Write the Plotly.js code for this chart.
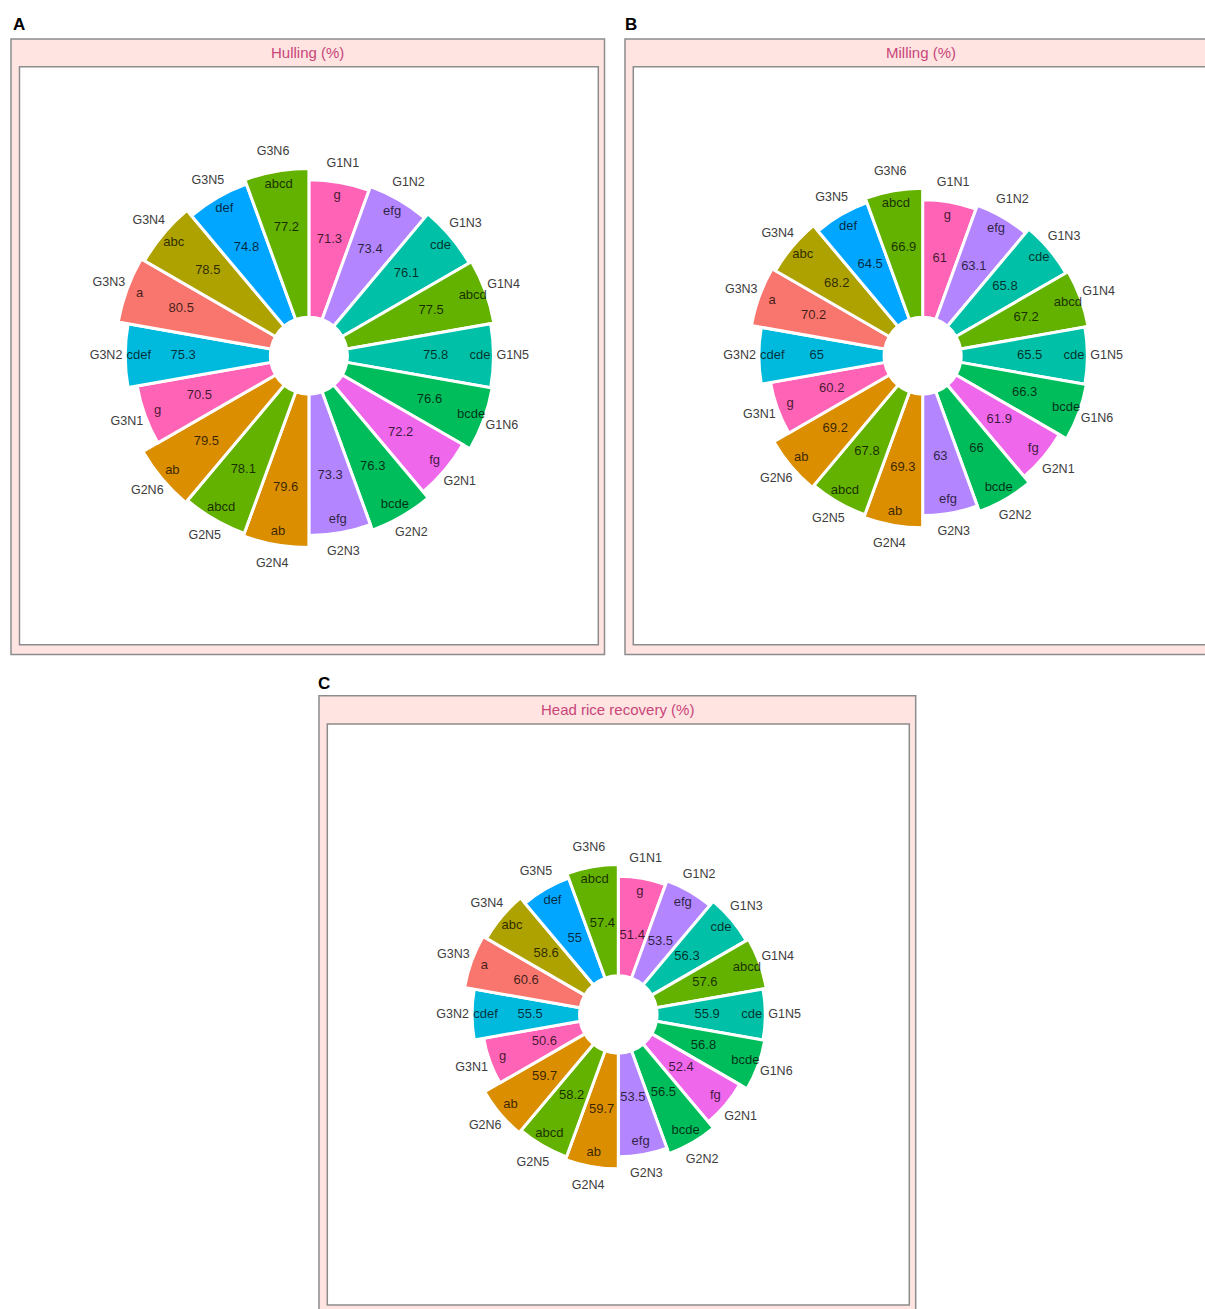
<!DOCTYPE html>
<html>
<head>
<meta charset="utf-8">
<script src="https://cdn.plot.ly/plotly-3.0.1.min.js"></script>
<style>
  html, body { margin: 0; padding: 0; background: #ffffff; }
  #chart { width: 1205px; height: 1309px; }
</style>
</head>
<body>
<div id="chart"></div>
<script>
// ---------------- data ----------------
const categories = ['G1N1','G1N2','G1N3','G1N4','G1N5','G1N6',
                    'G2N1','G2N2','G2N3','G2N4','G2N5','G2N6',
                    'G3N1','G3N2','G3N3','G3N4','G3N5','G3N6'];

const hulling  = [71.3, 73.4, 76.1, 77.5, 75.8, 76.6, 72.2, 76.3, 73.3, 79.6, 78.1, 79.5, 70.5, 75.3, 80.5, 78.5, 74.8, 77.2];
const milling  = [61, 63.1, 65.8, 67.2, 65.5, 66.3, 61.9, 66, 63, 69.3, 67.8, 69.2, 60.2, 65, 70.2, 68.2, 64.5, 66.9];
const headRice = [51.4, 53.5, 56.3, 57.6, 55.9, 56.8, 52.4, 56.5, 53.5, 59.7, 58.2, 59.7, 50.6, 55.5, 60.6, 58.6, 55, 57.4];

const lettersHulling  = ['g','efg','cde','abcd','cde','bcde','fg','bcde','efg','ab','abcd','ab','g','cdef','a','abc','def','abcd'];
const lettersMilling  = ['g','efg','cde','abcd','cde','bcde','fg','bcde','efg','ab','abcd','ab','g','cdef','a','abc','def','abcd'];
const lettersHeadRice = ['g','efg','cde','abcd','cde','bcde','fg','bcde','efg','ab','abcd','ab','g','cdef','a','abc','def','abcd'];

const panelTitles = ['Hulling (%)', 'Milling (%)', 'Head rice recovery (%)'];
const panelTags = ['A', 'B', 'C'];

// ---------------- style ----------------
const letterLevels = ['a','ab','abc','abcd','bcde','cde','cdef','def','efg','fg','g'];
const huePalette = ['#F8766D','#DB8E00','#AEA200','#64B200','#00BD5C','#00C1A7','#00BADE','#00A6FF','#B385FF','#EF67EB','#FF63B6'];
const FONT = 'Liberation Sans, Arial, Helvetica, sans-serif';
const W = 1205, H = 1309;
const px = x => x / W;
const py = y => 1 - y / H;

// panel geometry (pixels)
const panels = [
  {outer: [11, 39, 604.5, 654.5], inner: [19.5, 66.7, 598.3, 644.7], tag: [18.5, 24]},
  {outer: [625, 39, 1218, 654.5], inner: [633.3, 66.7, 1212, 644.7], tag: [631, 24]},
  {outer: [319, 695.7, 915.7, 1314], inner: [327.3, 724, 909.3, 1305], tag: [324.3, 683.5]}
];

const series = [
  {vals: hulling,  lets: lettersHulling},
  {vals: milling,  lets: lettersMilling},
  {vals: headRice, lets: lettersHeadRice}
];

const traces = [];
const layout = {
  width: W, height: H,
  margin: {l: 0, r: 0, t: 0, b: 0},
  paper_bgcolor: '#ffffff',
  showlegend: false,
  shapes: [],
  annotations: []
};

panels.forEach((p, k) => {
  const sub = k === 0 ? 'polar' : 'polar' + (k + 1);
  const s = series[k];
  const colors = s.lets.map(l => huePalette[letterLevels.indexOf(l)]);

  traces.push({
    type: 'barpolar', subplot: sub,
    theta: categories, r: s.vals,
    marker: {color: colors, line: {color: '#ffffff', width: 3}},
    hoverinfo: 'skip'
  });
  // value labels
  traces.push({
    type: 'scatterpolar', subplot: sub, mode: 'text',
    theta: categories, r: s.vals.map(v => v - 30),
    text: s.vals.map(v => String(v)),
    textposition: 'middle center',
    textfont: {family: FONT, size: 13, color: 'rgba(0,0,0,0.75)'},
    hoverinfo: 'skip', cliponaxis: false
  });
  // letter labels
  traces.push({
    type: 'scatterpolar', subplot: sub, mode: 'text',
    theta: categories, r: s.vals.map(v => v - 7),
    text: s.lets,
    textposition: 'middle center',
    textfont: {family: FONT, size: 13, color: 'rgba(0,0,0,0.75)'},
    hoverinfo: 'skip', cliponaxis: false
  });
  // category labels
  traces.push({
    type: 'scatterpolar', subplot: sub, mode: 'text',
    theta: categories, r: s.vals.map(v => v + 10),
    text: categories,
    textposition: 'middle center',
    textfont: {family: FONT, size: 12.5, color: '#3d3d3d'},
    hoverinfo: 'skip', cliponaxis: false
  });

  const [ix0, iy0, ix1, iy1] = p.inner;
  const cx = (ix0 + ix1) / 2, cy = (iy0 + iy1) / 2;
  const R = 0.4 * Math.min(ix1 - ix0, iy1 - iy0);
  layout[sub] = {
    domain: {x: [px(cx - R), px(cx + R)], y: [py(cy + R), py(cy - R)]},
    bgcolor: 'rgba(0,0,0,0)',
    bargap: 0,
    radialaxis: {range: [-20, 100], visible: false, showgrid: false, showline: false, showticklabels: false, ticks: ''},
    angularaxis: {type: 'category', categoryarray: categories, rotation: 80, direction: 'clockwise',
                  visible: false, showgrid: false, showline: false, showticklabels: false, ticks: ''}
  };

  const [ox0, oy0, ox1, oy1] = p.outer;
  layout.shapes.push({type: 'rect', xref: 'paper', yref: 'paper', layer: 'below',
    x0: px(ox0), x1: px(ox1), y0: py(oy1), y1: py(oy0),
    fillcolor: '#FFE4E1', line: {color: '#8c8c8c', width: 1.5}});
  layout.shapes.push({type: 'rect', xref: 'paper', yref: 'paper', layer: 'below',
    x0: px(ix0), x1: px(ix1), y0: py(iy1), y1: py(iy0),
    fillcolor: '#ffffff', line: {color: '#8c8c8c', width: 1.5}});

  layout.annotations.push({xref: 'paper', yref: 'paper', showarrow: false,
    x: px((ox0 + Math.min(ox1, ix1 + 6)) / 2), y: py((oy0 + iy0) / 2),
    xanchor: 'center', yanchor: 'middle',
    text: panelTitles[k], font: {family: FONT, size: 15, color: '#C8467A'}});
  layout.annotations.push({xref: 'paper', yref: 'paper', showarrow: false,
    x: px(p.tag[0]), y: py(p.tag[1]), xanchor: 'center', yanchor: 'middle',
    text: '<b>' + panelTags[k] + '</b>', font: {family: FONT, size: 17, color: '#000000'}});
});

Plotly.newPlot('chart', traces, layout, {staticPlot: true, displayModeBar: false});
</script>
</body>
</html>
